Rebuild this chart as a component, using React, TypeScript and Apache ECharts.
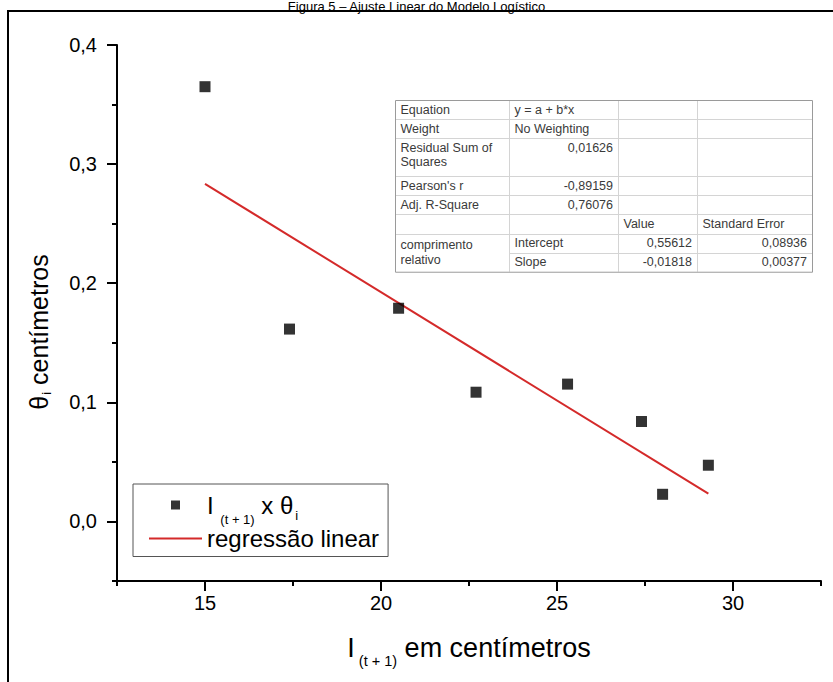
import React, { useEffect, useRef } from 'react';
import * as echarts from 'echarts';

const FONT = '"Liberation Sans", Arial, sans-serif';

const titleText = 'Figura 5 – Ajuste Linear do Modelo Logístico';
const xValues = [15, 17.4, 20.5, 22.7, 25.3, 27.4, 28, 29.3];
const yValues = [0.365, 0.1615, 0.179, 0.1085, 0.1153, 0.0839, 0.0228, 0.0472];
const fitX = [15, 29.3];
const fitY = [0.2834, 0.0234];
const xMajorTicks = [15, 20, 25, 30];
const yMajorTicks = [0, 0.1, 0.2, 0.3, 0.4];
const scatterName = 'I(t + 1) x θi';
const lineName = 'regressão linear';

const tableRows: string[][] = [
  ['Equation', 'y = a + b*x', '', ''],
  ['Weight', 'No Weighting', '', ''],
  ['Residual Sum of\nSquares', '0,01626', '', ''],
  ["Pearson's r", '-0,89159', '', ''],
  ['Adj. R-Square', '0,76076', '', ''],
  ['', '', 'Value', 'Standard Error'],
  ['comprimento\nrelativo', 'Intercept', '0,55612', '0,08936'],
  ['', 'Slope', '-0,01818', '0,00377'],
];
const tableRowUnits = [1, 1, 2, 1, 1, 1, 1, 1];

function buildTable() {
  const cols = [395, 509, 618, 697, 812];
  const top = 100;
  const unitH = 19.08;
  const LH = 14.5;
  const els: any[] = [];
  const rowTops: number[] = [];
  let y = top;
  tableRowUnits.forEach((u) => {
    rowTops.push(y);
    y += u * unitH;
  });
  const bottom = y;
  els.push({
    type: 'rect',
    shape: { x: cols[0], y: top, width: cols[4] - cols[0], height: bottom - top },
    style: { fill: '#fff', stroke: 'none' },
  });
  rowTops.forEach((ry, i) => {
    if (i === 0) return;
    const startX = i === 7 ? cols[1] : cols[0];
    els.push({
      type: 'line',
      shape: { x1: startX, y1: Math.round(ry) + 0.5, x2: cols[4], y2: Math.round(ry) + 0.5 },
      style: { stroke: '#d4d4d4', lineWidth: 1 },
    });
  });
  for (let c = 1; c < 4; c++) {
    els.push({
      type: 'line',
      shape: { x1: cols[c] + 0.5, y1: top, x2: cols[c] + 0.5, y2: bottom },
      style: { stroke: '#d4d4d4', lineWidth: 1 },
    });
  }
  els.push({
    type: 'rect',
    shape: { x: cols[0] + 0.5, y: top + 0.5, width: cols[4] - cols[0], height: bottom - top },
    style: { fill: 'none', stroke: '#9a9a9a', lineWidth: 1 },
  });
  tableRows.forEach((row, r) => {
    row.forEach((txt, c) => {
      if (!txt) return;
      const isNum = /^-?\d/.test(txt);
      const lines = txt.split('\n').length;
      const merged = r === 6 && c === 0;
      const cellTop = rowTops[r];
      const cy = merged
        ? cellTop + unitH
        : cellTop + unitH / 2 + ((lines - 1) * LH) / 2;
      const x = isNum ? cols[c + 1] - 5 : cols[c] + 5.5;
      els.push({
        type: 'text',
        x,
        y: cy,
        style: {
          text: txt,
          fill: '#3a3a3a',
          fontSize: 12.5,
          fontFamily: FONT,
          lineHeight: LH,
          textAlign: isNum ? 'right' : 'left',
          textVerticalAlign: 'middle',
        },
      });
    });
  });
  return { type: 'group', children: els, z: 10 };
}

export default function App() {
  const ref = useRef<HTMLDivElement>(null);
  useEffect(() => {
    if (!ref.current) return;
    const chart = echarts.init(ref.current, undefined, { renderer: 'svg' });
    const axisLine = { show: true, onZero: false, lineStyle: { color: '#000', width: 2 } };
    const hiddenLine = { show: false, onZero: false };
    const tickStyle = { color: '#000', width: 2 };
    const option: any = {
      animation: false,
      backgroundColor: '#fff',
      title: {
        text: titleText,
        left: 'center',
        top: 0,
        padding: 0,
        textStyle: { fontSize: 13, fontWeight: 'normal', color: '#000', fontFamily: FONT },
        z: 12,
      },
      grid: { left: 117, right: 12, top: 45, bottom: 101, containLabel: false },
      legend: {
        orient: 'vertical',
        left: 133,
        top: 484,
        padding: [9, 9, 6, 16],
        itemGap: 1,
        itemWidth: 53,
        itemHeight: 9,
        borderColor: '#555',
        borderWidth: 1,
        backgroundColor: '#fff',
        inactiveColor: '#000',
        data: [
          { name: scatterName, icon: 'path://M0,0H10V10H0Z' },
          { name: lineName, icon: 'path://M0,0H100V4H0Z' },
        ],
        formatter: (name: string) =>
          name === scatterName
            ? '{main|I }{subA|(t + 1)}{main| x θ}{subB|i}'
            : '{main|regressão linear}',
        textStyle: {
          color: '#000',
          fontFamily: FONT,
          fontSize: 24,
          rich: {
            main: { fontSize: 24, fontFamily: FONT, color: '#000000' },
            subA: { fontSize: 13, fontFamily: FONT, color: '#000000', padding: [28, 0, 0, 0] },
            subB: { fontSize: 13, fontFamily: FONT, color: '#000000', padding: [21, 0, 0, 2] },
          },
        },
      },
      xAxis: [
        {
          type: 'value',
          min: 12.5,
          max: 32.5,
          position: 'bottom',
          axisLine,
          axisTick: { show: true, customValues: xMajorTicks, length: 10, lineStyle: tickStyle },
          axisLabel: {
            customValues: xMajorTicks,
            margin: 12,
            fontSize: 20,
            color: '#000',
            fontFamily: FONT,
          },
          splitLine: { show: false },
          name: '{main|I}{sub|(t + 1)}{main| em centímetros}',
          nameLocation: 'middle',
          nameGap: 46,
          nameTextStyle: {
            fontFamily: FONT,
            fontSize: 27,
            color: '#000',
            rich: {
              main: { fontSize: 27, fontFamily: FONT, color: '#000' },
              sub: { fontSize: 14.5, fontFamily: FONT, color: '#000', padding: [26, 0, 0, 4] },
            },
          },
        },
        {
          type: 'value',
          min: 12.5,
          max: 32.5,
          interval: 2.5,
          position: 'bottom',
          axisLine: hiddenLine,
          axisTick: { show: true, length: 5, lineStyle: tickStyle },
          axisLabel: { show: false },
          splitLine: { show: false },
        },
      ],
      yAxis: [
        {
          type: 'value',
          min: -0.05,
          max: 0.4,
          position: 'left',
          axisLine,
          axisTick: { show: true, customValues: yMajorTicks, length: 10, lineStyle: tickStyle },
          axisLabel: {
            customValues: yMajorTicks,
            margin: 20,
            fontSize: 20,
            color: '#000',
            fontFamily: FONT,
            formatter: (v: number) => v.toFixed(1).replace('.', ','),
          },
          splitLine: { show: false },
          name: '{main|θ}{sub|i}{main| centímetros}',
          nameLocation: 'middle',
          nameRotate: 90,
          nameGap: 64,
          nameTextStyle: {
            fontFamily: FONT,
            fontSize: 25,
            color: '#000',
            padding: [0, 38, 0, 0],
            rich: {
              main: { fontSize: 25, fontFamily: FONT, color: '#000' },
              sub: { fontSize: 13, fontFamily: FONT, color: '#000', padding: [16, 0, 0, 1] },
            },
          },
        },
        {
          type: 'value',
          min: -0.05,
          max: 0.4,
          interval: 0.05,
          position: 'left',
          axisLine: hiddenLine,
          axisTick: { show: true, length: 5, lineStyle: tickStyle },
          axisLabel: { show: false },
          splitLine: { show: false },
        },
      ],
      series: [
        {
          name: lineName,
          type: 'line',
          xAxisIndex: 0,
          yAxisIndex: 0,
          data: fitX.map((x, i) => [x, fitY[i]]),
          symbol: 'none',
          lineStyle: { color: '#d42a2a', width: 2 },
          itemStyle: { color: '#d42a2a' },
          z: 2,
        },
        {
          name: scatterName,
          type: 'scatter',
          xAxisIndex: 0,
          yAxisIndex: 0,
          data: xValues.map((x, i) => [x, yValues[i]]),
          symbol: 'rect',
          symbolSize: 11,
          itemStyle: { color: '#000' },
          z: 3,
        },
      ],
      graphic: [
        {
          type: 'rect',
          shape: { x: 8, y: 11, width: 900, height: 800 },
          style: { fill: 'none', stroke: '#000', lineWidth: 2 },
          z: 0,
          silent: true,
        },
        buildTable(),
      ],
    };
    chart.setOption(option);
    return () => chart.dispose();
  }, []);
  return (
    <div
      ref={ref}
      style={{ position: 'fixed', left: 0, top: 0, width: 833, height: 682, background: '#fff' }}
    />
  );
}
